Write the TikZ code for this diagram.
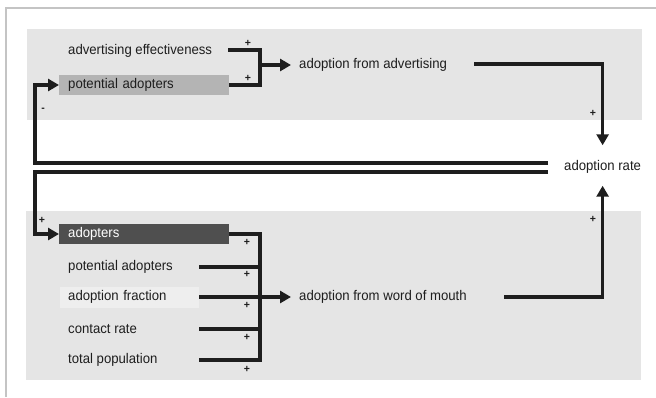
\documentclass[tikz,border=0pt]{standalone}
\usepackage{fontspec}
\setmainfont{Liberation Sans}
\newfontfamily\narrowfont[FakeStretch=0.94]{Liberation Sans}
\usetikzlibrary{arrows.meta}
\definecolor{panel}{HTML}{E5E5E5}
\definecolor{midbox}{HTML}{B4B4B4}
\definecolor{darkbox}{HTML}{4F4F4F}
\definecolor{lightbox}{HTML}{EEEEEE}
\definecolor{ink}{HTML}{1E1E1E}
\definecolor{framec}{HTML}{C4C4C4}
\begin{document}
\begin{tikzpicture}[x=1pt,y=-1pt,
  lbl/.style={inner sep=0pt, anchor=west, font=\narrowfont\fontsize{14}{16}\selectfont, text=ink},
  box/.style={lbl, minimum height=20pt, inner xsep=9pt, text width=152pt, align=left},
  conn/.style={line width=3.5pt, draw=ink},
  arr/.style={conn, -{Triangle[length=11pt,width=12pt]}},
  sgn/.style={inner sep=0pt, font=\fontsize{10.5}{10.5}\selectfont\bfseries, text=ink}
]
\useasboundingbox (0,0) rectangle (656,397);
% panels and frame
\fill[panel] (27,29) rectangle (642,120);
\fill[panel] (26,211) rectangle (641,380);
\draw[framec, line width=1.5pt] (6,397) -- (6,8) -- (656,8);

% nodes
\node[lbl] (ae) at (68,51) {advertising effectiveness};
\node[box, fill=midbox] (pa1) at (59,85) {potential adopters};
\node[lbl] (afa) at (299,65) {adoption from advertising};
\node[lbl] (ar) at (564,167) {adoption rate};
\node[box, fill=darkbox, text=white] (ad) at (59,234) {adopters};
\node[lbl] (pa2) at (68,267) {potential adopters};
\node[box, fill=lightbox, minimum height=21pt, inner xsep=8pt, text width=123pt] (af) at (60,297) {adoption fraction};
\node[lbl] (cr) at (68,329) {contact rate};
\node[lbl] (tp) at (68,360) {total population};
\node[lbl] (afw) at (299,297) {adoption from word of mouth};

\coordinate (jA) at (260,65);
\coordinate (jB) at (260,297);

% top panel connectors
\draw[conn] (228,50) -| (jA);
\draw[conn] (pa1.east) -| (jA);
\draw[arr, shorten >=8pt] (jA) -- (afa.west);
\draw[arr, shorten >=15pt] (474,64) -| (ar.north);

% bottom panel connectors
\draw[conn] (ad.east) -| (jB);
\draw[conn] (pa2.east -| af.east) -| (jB);
\draw[conn] (af.east) -- (jB);
\draw[conn] (cr.east -| af.east) -| (jB);
\draw[conn] (tp.east -| af.east) -| (jB);
\draw[arr, shorten >=8pt] (jB) -- (afw.west);
\draw[arr, shorten >=12pt] (504,297) -| (ar.south);

% feedback double line
\draw[arr] ([shift={(-16,-4)}]ar.west) -| ([xshift=-24pt]pa1.west) -- (pa1.west);
\draw[arr] ([shift={(-16,5)}]ar.west) -| ([xshift=-24pt]ad.west) -- (ad.west);

% signs
\node[sgn] (s1) at (248,43) {+};
\node[sgn] (s2) at (248,78) {+};
\node[sgn] (s3) at (593,113) {+};
\node[sgn] (s4) at (43,110) {-};
\node[sgn] (s5) at (42,220) {+};
\node[sgn] (s6) at (593,219) {+};
\node[sgn] (s7) at (247,242) {+};
\node[sgn] (s8) at (247,274) {+};
\node[sgn] (s9) at (247,305) {+};
\node[sgn] (s10) at (247,337) {+};
\node[sgn] (s11) at (247,369) {+};
\end{tikzpicture}
\end{document}
